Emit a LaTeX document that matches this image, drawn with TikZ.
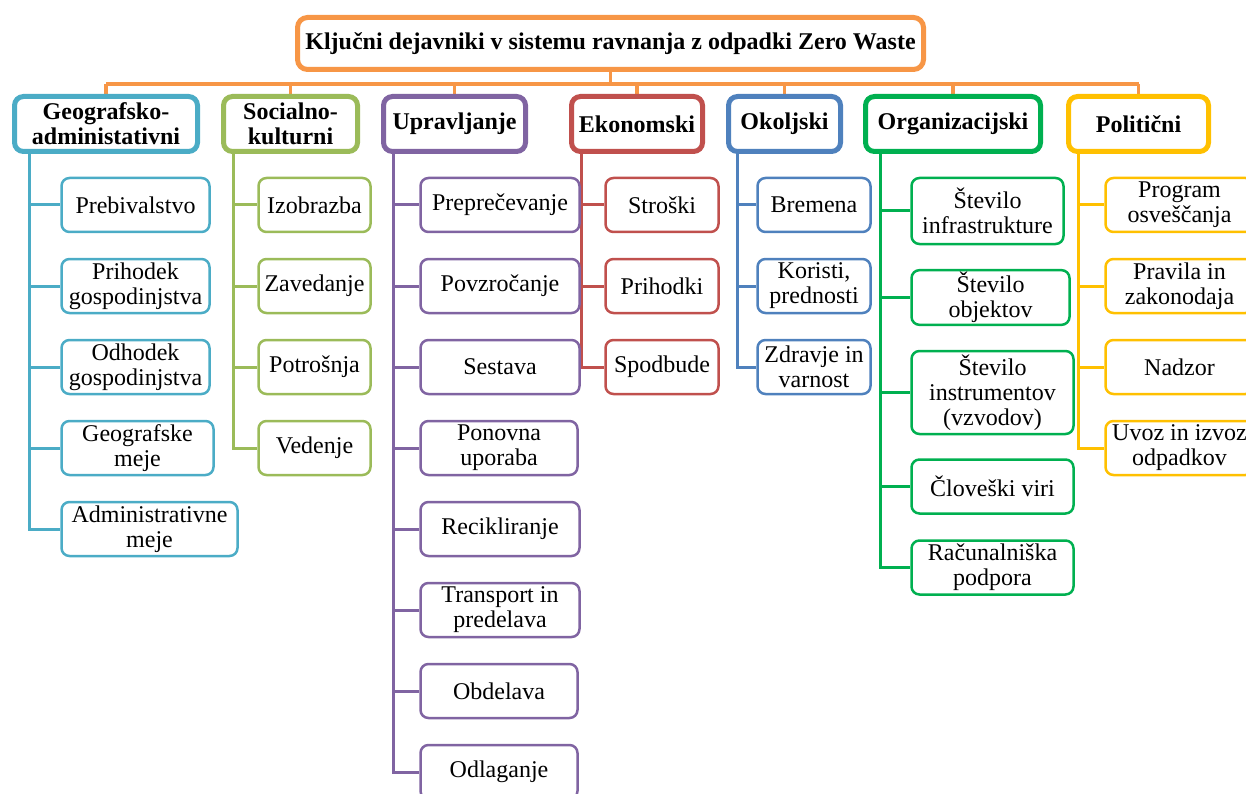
\documentclass[tikz,border=0pt]{standalone}
\usepackage{fontspec}
\setmainfont{Liberation Serif}
\usetikzlibrary{positioning,backgrounds}

\definecolor{zworange}{HTML}{F79646}
\definecolor{geoblue}{HTML}{4BACC6}
\definecolor{socgreen}{HTML}{9BBB59}
\definecolor{uprpurple}{HTML}{8064A2}
\definecolor{ekored}{HTML}{C0504D}
\definecolor{okoblue}{HTML}{4F81BD}
\definecolor{orggreen}{HTML}{00B050}
\definecolor{polyellow}{HTML}{FFC000}

\tikzset{
  zerowaste/.style={
    x=1pt, y=-1pt,
    every node/.style={font=\fontsize{24}{25}\selectfont, align=center, inner sep=2pt, fill=white},
    maintitle/.style={
        draw=zworange,
        line width=5pt,
        rounded corners=10pt,
        font=\bfseries\fontsize{24}{25}\selectfont,
        minimum width=626pt,
        minimum height=52pt,
    },
    factor/.style={
        draw=##1,
        line width=5pt,
        rounded corners=9pt,
        font=\bfseries\fontsize{24}{25}\selectfont,
        minimum height=55pt,
    },
    subfactor/.style={
        draw=##1,
        line width=2.5pt,
        rounded corners=8pt,
        minimum height=54pt,
        anchor=west,
    },
    branch/.style={draw=##1, line width=3pt},
  }
}

\begin{document}
\begin{tikzpicture}[zerowaste]
    \useasboundingbox (0,0) rectangle (1246,794);
    \clip (0,0) rectangle (1246,794);

    \node[maintitle] (title) at (610.5,43.5) {Ključni dejavniki v sistemu ravnanja z odpadki Zero Waste};

    \node[factor=geoblue, minimum width=183pt] (geo) at (106,124) {Geografsko-\\administativni};
    \node[factor=socgreen, minimum width=134pt] (soc) at (290.5,124) {Socialno-\\kulturni};
    \node[factor=uprpurple, minimum width=142pt] (upr) at (454.5,124) {Upravljanje};
    \node[factor=ekored, minimum width=131pt] (eko) at (637,124) {Ekonomski};
    \node[factor=okoblue, minimum width=112pt] (oko) at (784.5,124) {Okoljski};
    \node[factor=orggreen, minimum width=175pt] (org) at (953,124) {Organizacijski};
    \node[factor=polyellow, minimum width=140pt] (pol) at (1138.5,124) {Politični};

    \node[subfactor=geoblue, minimum width=148pt] (preb) at (60.25,205) {Prebivalstvo};
    \node[subfactor=geoblue, minimum width=148pt] (prih) at (60.25,286) {Prihodek\\gospodinjstva};
    \node[subfactor=geoblue, minimum width=148pt] (odh) at (60.25,367) {Odhodek\\gospodinjstva};
    \node[subfactor=geoblue, minimum width=152pt] (geom) at (60.25,448) {Geografske\\meje};
    \node[subfactor=geoblue, minimum width=176pt] (admm) at (60.25,529) {Administrativne\\meje};

    \node[subfactor=socgreen, minimum width=112pt] (izob) at (257.25,205) {Izobrazba};
    \node[subfactor=socgreen, minimum width=112pt] (zave) at (257.25,286) {Zavedanje};
    \node[subfactor=socgreen, minimum width=112pt] (potr) at (257.25,367) {Potrošnja};
    \node[subfactor=socgreen, minimum width=112pt] (vede) at (257.25,448) {Vedenje};

    \node[subfactor=uprpurple, minimum width=159pt] (prep) at (419.25,205) {Preprečevanje};
    \node[subfactor=uprpurple, minimum width=159pt] (povz) at (419.25,286) {Povzročanje};
    \node[subfactor=uprpurple, minimum width=159pt] (sest) at (419.25,367) {Sestava};
    \node[subfactor=uprpurple, minimum width=157pt] (pono) at (419.25,448) {Ponovna\\uporaba};
    \node[subfactor=uprpurple, minimum width=159pt] (reci) at (419.25,529) {Recikliranje};
    \node[subfactor=uprpurple, minimum width=159pt] (tran) at (419.25,610) {Transport in\\predelava};
    \node[subfactor=uprpurple, minimum width=157pt] (obde) at (419.25,691) {Obdelava};
    \node[subfactor=uprpurple, minimum width=157pt] (odla) at (419.25,772) {Odlaganje};

    \node[subfactor=ekored, minimum width=113pt] (stro) at (604.25,205) {Stroški};
    \node[subfactor=ekored, minimum width=113pt] (prhd) at (604.25,286) {Prihodki};
    \node[subfactor=ekored, minimum width=113pt] (spod) at (604.25,367) {Spodbude};

    \node[subfactor=okoblue, minimum width=113pt] (brem) at (756.25,205) {Bremena};
    \node[subfactor=okoblue, minimum width=113pt] (kori) at (756.25,286) {Koristi,\\prednosti};
    \node[subfactor=okoblue, minimum width=113pt] (zdra) at (756.25,367) {Zdravje in\\varnost};

    \node[subfactor=orggreen, minimum width=152pt, minimum height=66pt] (infr) at (910.25,211) {Število\\infrastrukture};
    \node[subfactor=orggreen, minimum width=158pt] (obje) at (910.25,297.5) {Število\\objektov};
    \node[subfactor=orggreen, minimum width=162pt, minimum height=83pt] (inst) at (910.25,392.5) {Število\\instrumentov\\(vzvodov)};
    \node[subfactor=orggreen, minimum width=162pt] (clov) at (910.25,486.5) {Človeški viri};
    \node[subfactor=orggreen, minimum width=162pt] (racu) at (910.25,567.5) {Računalniška\\podpora};

    \node[subfactor=polyellow, minimum width=148pt] (prog) at (1104.25,205) {Program\\osveščanja};
    \node[subfactor=polyellow, minimum width=148pt] (prav) at (1104.25,286) {Pravila in\\zakonodaja};
    \node[subfactor=polyellow, minimum width=148pt] (nadz) at (1104.25,367) {Nadzor};
    \node[subfactor=polyellow, minimum width=148pt] (uvoz) at (1104.25,448) {Uvoz in izvoz\\odpadkov};

    \begin{scope}[on background layer]
        \coordinate (bar) at (title.south |- 0,84);
        \draw[branch=zworange, line width=3.5pt] (title.south) -- (bar);
        \draw[branch=zworange, line width=3.5pt] (geo.north |- bar) -- (pol.north |- bar);
        \foreach \h in {geo,soc,upr,eko,oko,org,pol}
            \draw[branch=zworange, line width=3.5pt] (\h.north |- bar) -- (\h.north);

        \draw[branch=geoblue] ([xshift=17.5pt]geo.south west) coordinate (geot) |- (admm.west);
        \foreach \n in {preb,prih,odh,geom}
            \draw[branch=geoblue] (geot |- \n.west) -- (\n.west);

        \draw[branch=socgreen] ([xshift=12.5pt]soc.south west) coordinate (soct) |- (vede.west);
        \foreach \n in {izob,zave,potr}
            \draw[branch=socgreen] (soct |- \n.west) -- (\n.west);

        \draw[branch=uprpurple] ([xshift=12.5pt]upr.south west) coordinate (uprt) |- (odla.west);
        \foreach \n in {prep,povz,sest,pono,reci,tran,obde}
            \draw[branch=uprpurple] (uprt |- \n.west) -- (\n.west);

        \draw[branch=ekored] ([xshift=12.5pt]eko.south west) coordinate (ekot) |- (spod.west);
        \foreach \n in {stro,prhd}
            \draw[branch=ekored] (ekot |- \n.west) -- (\n.west);

        \draw[branch=okoblue] ([xshift=11pt]oko.south west) coordinate (okot) |- (zdra.west);
        \foreach \n in {brem,kori}
            \draw[branch=okoblue] (okot |- \n.west) -- (\n.west);

        \draw[branch=orggreen] ([xshift=17.5pt]org.south west) coordinate (orgt) |- (racu.west);
        \foreach \n in {infr,obje,inst,clov}
            \draw[branch=orggreen] (orgt |- \n.west) -- (\n.west);

        \draw[branch=polyellow] ([xshift=12.5pt]pol.south west) coordinate (polt) |- (uvoz.west);
        \foreach \n in {prog,prav,nadz}
            \draw[branch=polyellow] (polt |- \n.west) -- (\n.west);
    \end{scope}
\end{tikzpicture}
\end{document}
